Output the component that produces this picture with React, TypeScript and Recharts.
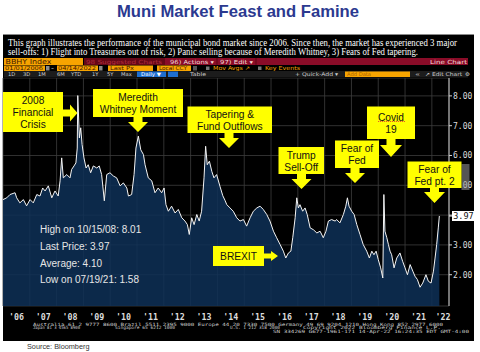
import React from 'react';
import { AreaChart, Area, XAxis, YAxis, CartesianGrid, ReferenceLine } from 'recharts';

// BBHY Index (decimal year, yield %)
const dates = [
  2006.00, 2006.14, 2006.26, 2006.45, 2006.51, 2006.63, 2006.76, 2006.88,
  2007.01, 2007.13, 2007.26, 2007.38, 2007.48, 2007.57, 2007.69, 2007.82, 2007.94,
  2008.06, 2008.13, 2008.19, 2008.25, 2008.38, 2008.50, 2008.56, 2008.65, 2008.72,
  2008.77, 2008.79, 2008.85, 2008.90, 2008.95,
  2009.02, 2009.10, 2009.18, 2009.27, 2009.37, 2009.50, 2009.59, 2009.68, 2009.78, 2009.87, 2009.99,
  2010.12, 2010.24, 2010.37, 2010.49, 2010.62, 2010.68, 2010.80, 2010.89, 2010.96,
  2011.05, 2011.14, 2011.24, 2011.30, 2011.42, 2011.55, 2011.67, 2011.79, 2011.92,
  2012.01, 2012.08, 2012.17, 2012.29, 2012.42, 2012.54, 2012.67, 2012.79, 2012.88, 2012.95,
  2013.04, 2013.13, 2013.23, 2013.32, 2013.41, 2013.50, 2013.56, 2013.62, 2013.70, 2013.79, 2013.87, 2013.97,
  2014.10, 2014.20, 2014.28, 2014.35, 2014.47, 2014.59, 2014.72, 2014.84, 2014.97,
  2015.09, 2015.22, 2015.34, 2015.47, 2015.59, 2015.71, 2015.84, 2015.96,
  2016.09, 2016.21, 2016.34, 2016.46, 2016.55, 2016.65, 2016.74, 2016.81, 2016.90, 2016.96,
  2017.02, 2017.08, 2017.18, 2017.27, 2017.35, 2017.46, 2017.58, 2017.71, 2017.83, 2017.95,
  2018.05, 2018.14, 2018.26, 2018.39, 2018.45, 2018.57, 2018.70, 2018.79, 2018.85, 2018.91,
  2019.01, 2019.10, 2019.20, 2019.32, 2019.44, 2019.57, 2019.67, 2019.76, 2019.84, 2019.92,
  2020.00, 2020.09, 2020.17, 2020.21, 2020.25, 2020.32, 2020.38, 2020.44, 2020.50, 2020.59,
  2020.69, 2020.81, 2020.91,
  2021.00, 2021.09, 2021.19, 2021.29, 2021.37, 2021.46, 2021.56, 2021.66, 2021.78, 2021.87, 2021.97,
  2022.06, 2022.12, 2022.18, 2022.24, 2022.28,
];

const yields = [
  4.52, 4.58, 4.69, 4.75, 4.58, 4.41, 4.52, 4.31,
  4.52, 4.41, 4.69, 4.64, 4.91, 4.81, 4.98, 4.58, 4.81,
  4.64, 5.15, 5.92, 5.25, 5.36, 5.25, 5.53, 5.65, 5.75,
  6.25, 8.01, 6.59, 6.93, 6.37,
  5.92, 5.58, 5.69, 5.42, 5.65, 5.58, 5.65, 5.36, 4.48, 5.36, 5.42,
  5.31, 5.25, 4.98, 5.08, 4.91, 4.64, 4.69, 5.36, 6.25,
  6.65, 6.19, 6.03, 5.69, 5.25, 5.15, 4.75, 4.91, 4.75,
  4.91, 4.35, 4.13, 4.30, 4.07, 4.19, 3.91, 3.80, 3.68, 3.35,
  3.91, 3.68, 4.02, 3.80, 4.13, 5.25, 6.31, 5.69, 5.81, 5.47, 5.25, 5.36,
  4.95, 4.65, 4.50, 4.35, 4.24, 4.13, 3.91, 3.80, 3.85,
  3.63, 3.91, 4.13, 4.24, 4.30, 4.19, 4.02, 3.80,
  3.46, 3.24, 3.01, 2.79, 2.56, 2.73, 2.79, 3.24, 3.91, 4.58,
  4.24, 4.35, 4.13, 4.24, 4.02, 3.57, 3.51, 3.40, 3.46, 3.24,
  3.46, 3.80, 3.85, 3.80, 3.85, 3.74, 4.02, 4.30, 4.58, 4.30,
  4.13, 4.02, 3.68, 3.35, 3.01, 2.79, 2.56, 2.79, 2.67, 2.79,
  2.51, 2.23, 1.89, 4.69, 3.46, 3.24, 3.01, 2.79, 2.67, 2.23,
  2.56, 2.73, 2.45,
  2.23, 2.00, 2.34, 2.12, 1.95, 1.84, 1.58, 1.72, 2.00, 1.78, 1.72,
  2.12, 2.56, 3.01, 3.57, 3.97,
];

const years = [2006, 2007, 2008, 2009, 2010, 2011, 2012, 2013, 2014, 2015, 2016, 2017, 2018, 2019, 2020, 2021, 2022];
const yTicks = [2, 3, 4, 5, 6, 7, 8];
const statLines = ['High on 10/15/08: 8.01', 'Last Price: 3.97', 'Average: 4.10', 'Low on 07/19/21: 1.58'];

const X_MAX = 2022.64;
const lastPrice = yields[yields.length - 1];
const data = dates.map((d, i) => ({ date: d, px: yields[i] }));
const labelTicks = years.map((y) => Math.min(y + 0.5, X_MAX - 0.22));

const SANS = '"Liberation Sans", Arial, sans-serif';
const SERIF = '"Liberation Serif", "Times New Roman", serif';
const MONO = '"DejaVu Sans Mono", monospace';
const TB = '"DejaVu Sans", sans-serif';

const LastTag = (props: any) => {
  const { viewBox } = props;
  if (!viewBox) return null;
  const x = viewBox.x + viewBox.width;
  const y = viewBox.y;
  return (
    <g>
      <line x1={x} x2={x + 4} y1={y} y2={y} stroke="#fff" />
      <rect x={x + 3} y={y - 5} width={23} height={10} fill="#fff" />
      <text x={x + 14.5} y={y + 3} textAnchor="middle" fontSize={8.5} fontFamily={MONO} fill="#111">
        {lastPrice.toFixed(2)}
      </text>
    </g>
  );
};

// yellow annotation box
const Box = ({ x, y, w, h, lines, mids }: { x: number; y: number; w: number; h: number; lines: string[]; mids: number[] }) => (
  <g>
    <rect x={x} y={y} width={w} height={h} fill="#ffff00" />
    {lines.map((t, i) => (
      <text key={t} x={x + w / 2} y={mids[i] + 3.6} textAnchor="middle" fontSize={10.2} fontFamily={SANS} fill="#111">
        {t}
      </text>
    ))}
  </g>
);

const DownArrow = ({ cx, y0, yh, y1, sw = 4.5, hw = 10 }: any) => (
  <polygon
    fill="#ffff00"
    points={`${cx - sw},${y0} ${cx + sw},${y0} ${cx + sw},${yh} ${cx + hw},${yh} ${cx},${y1} ${cx - hw},${yh} ${cx - sw},${yh}`}
  />
);

const RightArrow = ({ cy, x0, xh, x1, sw = 3.5, hw = 8.5 }: any) => (
  <polygon
    fill="#ffff00"
    points={`${x0},${cy - sw} ${xh},${cy - sw} ${xh},${cy - hw} ${x1},${cy} ${xh},${cy + hw} ${xh},${cy + sw} ${x0},${cy + sw}`}
  />
);

const T = ({ x, y, w, children, fill = '#ddd', size = 5.6, font = TB }: any) => (
  <text x={x} y={y} fontSize={size} fontFamily={font} fill={fill} textLength={w} lengthAdjust="spacingAndGlyphs">
    {children}
  </text>
);

// paragraph line: narrower font stretched vertically to the screenshot's glyph height
const Para = ({ y, w, children }: any) => (
  <text
    transform={`translate(8,${y}) scale(1,1.2)`}
    x={0}
    y={0}
    fontSize={8.3}
    fontFamily={SERIF}
    fill="#fff"
    textLength={w}
    lengthAdjust="spacingAndGlyphs"
  >
    {children}
  </text>
);

const Header = () => (
  <g>
    <text x={117} y={17} fontSize={16.6} fontWeight="bold" fontFamily={SANS} fill="#2b3990" textLength={242} lengthAdjust="spacingAndGlyphs">
      Muni Market Feast and Famine
    </text>
    <Para y={45.5} w={449}>
      This graph illustrates the performance of the municipal bond market since 2006. Since then, the market has experienced 3 major
    </Para>
    <Para y={55.3} w={410}>
      sell-offs: 1) Flight into Treasuries out of risk, 2) Panic selling because of Meredith Whitney, 3) Fears of Fed tapering.
    </Para>

    {/* row 1 */}
    <rect x={4} y={58} width={79} height={7} fill="#f7a400" />
    <T x={5.5} y={64.2} w={46} size={7} fill="#3f1600">BBHY Index</T>
    <rect x={84} y={58} width={384} height={7} fill="#8a0c28" />
    <rect x={84} y={58} width={81} height={7} fill="#660717" />
    <T x={86} y={63.8} w={76} fill="#b4303e">98 Suggested Charts</T>
    <T x={170} y={63.8} w={44} fill="#f3dcdc">96) Actions ▾</T>
    <line x1={217} x2={217} y1={58} y2={65} stroke="#5a0615" />
    <T x={220} y={63.8} w={33} fill="#f3dcdc">97) Edit ▾</T>
    <line x1={256} x2={256} y1={58} y2={65} stroke="#5a0615" />
    <T x={430} y={63.8} w={37} fill="#f3dcdc">Line Chart</T>

    {/* row 2 */}
    <rect x={4} y={65.5} width={41} height={5.5} fill="#f7a400" />
    <T x={5} y={70.3} w={38} size={5.5} fill="#3f1600">01/01/2006</T>
    <rect x={46} y={66} width={3.5} height={4.5} fill="#8a8a8a" />
    <T x={51} y={70.3} w={3} size={5.5}>-</T>
    <rect x={57} y={65.5} width={41} height={5.5} fill="#f7a400" />
    <T x={58} y={70.3} w={38} size={5.5} fill="#3f1600">04/14/2022</T>
    <rect x={99} y={66} width={3.5} height={4.5} fill="#8a8a8a" />
    <rect x={108} y={65.5} width={45} height={5.5} fill="#f7a400" />
    <T x={110} y={70.3} w={24} size={5.5} fill="#3f1600">Last Px</T>
    <rect x={157} y={65.5} width={34} height={5.5} fill="#f7a400" />
    <T x={159} y={70.3} w={28} size={5.5} fill="#3f1600">Local CCY</T>
    <rect x={193} y={66} width={4} height={4.5} fill="#555" />
    <rect x={206} y={66.5} width={3.5} height={3.5} fill="#777" />
    <T x={213} y={70.3} w={37} size={5.5} fill="#f7a400">Mov Avgs ↗</T>
    <rect x={258} y={66.5} width={3.5} height={3.5} fill="#777" />
    <T x={265} y={70.3} w={35} size={5.5} fill="#f7a400">Key Events</T>

    {/* row 3 */}
    <rect x={4} y={71} width={464} height={6.5} fill="#1c1c1c" />
    {[['1D', 8], ['3D', 23], ['1M', 38], ['6M', 57], ['YTD', 71], ['1Y', 92], ['5Y', 107], ['Max', 121]].map(([t, x]) => (
      <text key={t as string} x={x as number} y={76.4} fontSize={5.2} fontFamily={TB} fill="#cfcfcf">{t}</text>
    ))}
    <rect x={137} y={71.5} width={29} height={5.5} fill="#1f6fd0" />
    <T x={141} y={76.4} w={20} size={5.2} fill="#fff">Daily ▼</T>
    <rect x={168} y={71.5} width={10} height={5.5} fill="#1f6fd0" />
    <T x={190} y={76.4} w={16} size={5.2} fill="#cfcfcf">Table</T>
    <T x={295} y={76.4} w={43} size={5.2} fill="#cfcfcf">+ Quick-Add ▾</T>
    <rect x={345} y={71.5} width={65} height={5.5} fill="#f7a400" />
    <T x={347} y={76.4} w={24} size={5.2} fill="#a85e00">Add Data</T>
    <T x={415} y={76.4} w={5} size={5.2} fill="#cfcfcf">«</T>
    <T x={425} y={76.4} w={37} size={5.2} fill="#cfcfcf">↗ Edit Chart</T>
    <T x={465} y={76.4} w={5} size={5.2} fill="#cfcfcf">⚙</T>
  </g>
);

const Footer = () => (
  <g>
    <T x={33} y={325.8} w={410} size={4.4} font={MONO} fill="#cfcfcf">
      Australia 61 2 9777 8600 Brazil 5511 2395 9000 Europe 44 20 7330 7500 Germany 49 69 9204 1210 Hong Kong 852 2977 6000
    </T>
    <T x={33} y={329.4} w={47} size={4.4} font={MONO} fill="#cfcfcf">Japan 81 3 4565 8900</T>
    <T x={115} y={329.4} w={60} size={4.4} font={MONO} fill="#cfcfcf">Singapore 65 6212 1000</T>
    <T x={230} y={329.4} w={50} size={4.4} font={MONO} fill="#cfcfcf">U.S. 1 212 318 2000</T>
    <T x={303} y={329.4} w={138} size={4.4} font={MONO} fill="#cfcfcf">Copyright 2022 Bloomberg Finance L.P.</T>
    <T x={273} y={333} w={196} size={4.4} font={MONO} fill="#cfcfcf">
      SN 334269 G677-1961-171 14-Apr-22 16:24:35 EDT GMT-4:00
    </T>
    <text x={27} y={348.6} fontSize={7.3} fontFamily={SANS} fill="#333">Source: Bloomberg</text>
  </g>
);

const Callouts = () => (
  <g>
    <Box x={3} y={92} w={60} h={40} lines={['2008', 'Financial', 'Crisis']} mids={[100.7, 112.2, 124.5]} />
    <RightArrow cy={113} x0={63} xh={70} x1={77.5} />

    <Box x={93} y={89} w={90} h={28} lines={['Meredith', 'Whitney Moment']} mids={[97.7, 109.3]} />
    <DownArrow cx={138} y0={117} yh={122} y1={132} />

    <Box x={187.5} y={106.5} w={84.5} h={26.5} lines={['Tapering &', 'Fund Outflows']} mids={[114, 126.3]} />
    <DownArrow cx={229} y0={133} yh={138} y1={148} />

    <Box x={278.5} y={147} w={45.5} h={27} lines={['Trump', 'Sell-Off']} mids={[155, 167]} />
    <DownArrow cx={301.5} y0={174} yh={179} y1={189} />

    <Box x={335} y={140.5} w={44} h={27.5} lines={['Fear of', 'Fed']} mids={[148.5, 160]} />
    <DownArrow cx={355} y0={168} yh={173} y1={183} />

    <Box x={367} y={106.5} w={48} h={32.5} lines={['Covid', '19']} mids={[117.3, 129]} />
    <line x1={378} x2={405} y1={121.5} y2={121.5} stroke="#e03030" strokeWidth={0.8} strokeDasharray="1.2 0.8" />
    <DownArrow cx={391} y0={139} yh={145} y1={157} hw={11} />

    <rect x={461.5} y={164} width={8} height={26} fill="#9a9a9a" opacity={0.55} />
    <Box x={407.5} y={161.5} w={54} h={26.5} lines={['Fear of', 'Fed pt. 2']} mids={[169.3, 181]} />
    <DownArrow cx={434.5} y0={188} yh={192} y1={203} hw={10.5} />

    <Box x={213} y={246} w={51} h={20} lines={['BREXIT']} mids={[256]} />
    <RightArrow cy={256} x0={264} xh={271} x1={278} sw={2.5} hw={5} />

    {statLines.map((t, i) => (
      <text key={t} x={40} y={233.3 + i * 16.7} fontSize={10} fontFamily={SANS} fill="#e6e6e6">
        {t}
      </text>
    ))}
  </g>
);

export default function App() {
  return (
    <div style={{ position: 'absolute', left: 0, top: 0, width: 480, height: 352, background: '#fff', overflow: 'hidden' }}>
      <div style={{ position: 'absolute', left: 3, top: 34, width: 471, height: 306, background: '#000', borderTop: '1px solid #8a8a8a' }} />
      <div style={{ position: 'absolute', left: 0, top: 78 }}>
        <AreaChart width={480} height={262} data={data} margin={{ top: 0, right: 3, bottom: 0, left: 3 }}>
          <CartesianGrid xAxisId="sep" stroke="#3d3d3d" strokeWidth={0.8} />
          <XAxis
            xAxisId="sep"
            dataKey="date"
            type="number"
            domain={[2006, X_MAX]}
            allowDataOverflow
            ticks={years}
            interval={0}
            height={0}
            tick={() => <g />}
            tickSize={6}
            tickLine={{ stroke: '#9a9a9a' }}
            axisLine={false}
          />
          <XAxis
            dataKey="date"
            type="number"
            domain={[2006, X_MAX]}
            allowDataOverflow
            ticks={labelTicks}
            height={34}
            interval={0}
            tickLine={false}
            axisLine={false}
            tickSize={5}
            tickMargin={3}
            tickFormatter={(v) => "'" + String(Math.floor(v)).slice(2)}
            tick={{ fill: '#dcdcdc', fontSize: 8.3, fontFamily: MONO, fontWeight: 'bold' }}
          />
          <YAxis
            orientation="right"
            width={28}
            domain={[0.95, 8.6]}
            allowDataOverflow
            ticks={yTicks}
            interval={0}
            tickSize={3}
            tickMargin={1}
            tickFormatter={(v) => (v === 4 ? '' : v.toFixed(2))}
            axisLine={{ stroke: '#d0d0d0' }}
            tickLine={{ stroke: '#d0d0d0' }}
            tick={{ fill: '#dcdcdc', fontSize: 8, fontFamily: MONO, textAnchor: 'start' }}
          />
          <Area
            xAxisId={0}
            type="linear"
            dataKey="px"
            stroke="#f4f4f4"
            strokeWidth={1}
            fill="#0e3057"
            fillOpacity={0.85}
            isAnimationActive={false}
            dot={false}
          />
          <ReferenceLine y={lastPrice} stroke="none" ifOverflow="visible" label={<LastTag />} />
        </AreaChart>
      </div>
      <svg width={480} height={352} style={{ position: 'absolute', left: 0, top: 0, pointerEvents: 'none' }}>
        <Header />
        <Callouts />
        <Footer />
      </svg>
    </div>
  );
}
